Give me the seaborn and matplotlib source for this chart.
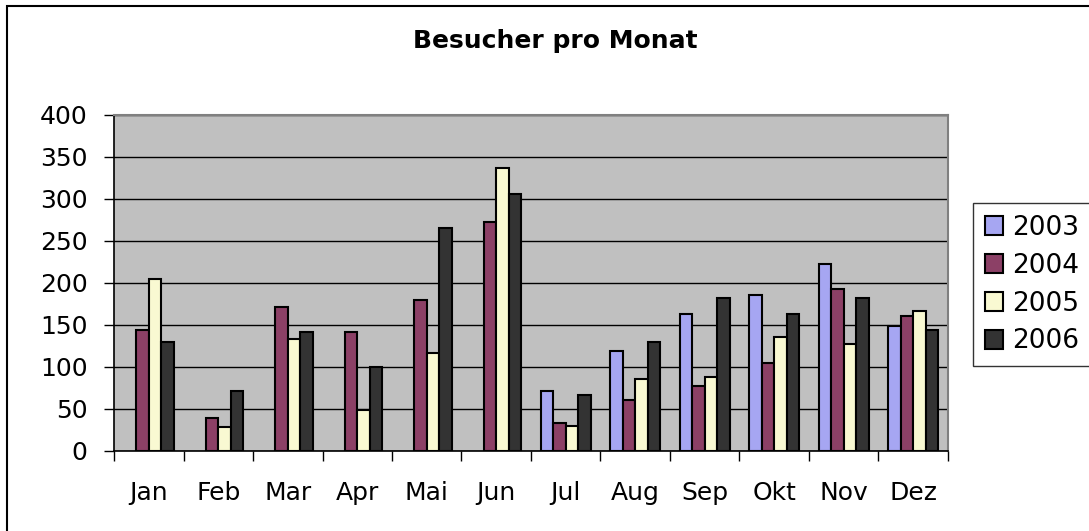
import numpy as np
import pandas as pd
import matplotlib
matplotlib.use("Agg")
import matplotlib.pyplot as plt
import matplotlib.patches as mpatches
import seaborn as sns

months = ["Jan", "Feb", "Mar", "Apr", "Mai", "Jun", "Jul", "Aug", "Sep", "Okt", "Nov", "Dez"]
years = ["2003", "2004", "2005", "2006"]
v2003 = [np.nan, np.nan, np.nan, np.nan, np.nan, np.nan, 71, 119, 163, 185, 222, 149]
v2004 = [144, 39, 171, 141, 180, 273, 33, 60, 77, 105, 193, 160]
v2005 = [204, 28, 133, 49, 116, 337, 30, 86, 88, 136, 127, 166]
v2006 = [130, 71, 141, 100, 265, 306, 66, 130, 182, 163, 182, 144]
yticks = [0, 50, 100, 150, 200, 250, 300, 350, 400]
colors = ["#9999FF", "#993366", "#FFFFCC", "#333333"]

rows = []
for y, vals in zip(years, [v2003, v2004, v2005, v2006]):
    for m, v in zip(months, vals):
        rows.append({"Monat": m, "Jahr": y, "Besucher": v})
df = pd.DataFrame(rows)

sns.set_theme(style="white")
plt.rcParams["font.family"] = ["DejaVu Sans"]
plt.rcParams["text.color"] = "black"
plt.rcParams["xtick.color"] = "black"
plt.rcParams["ytick.color"] = "black"
plt.rcParams["xtick.labelcolor"] = "black"
plt.rcParams["ytick.labelcolor"] = "black"

fig = plt.figure(figsize=(10.89, 5.31), dpi=100)
ax = fig.add_axes([114 / 1089, 80.3 / 531, (948 - 114) / 1089, (450.7 - 115) / 531])

sns.barplot(data=df, x="Monat", y="Besucher", hue="Jahr", order=months,
            hue_order=years, palette=colors, width=0.72, gap=0,
            errorbar=None, edgecolor="black", linewidth=1.5, ax=ax,
            legend=True, zorder=3)

ax.set_facecolor("#C0C0C0")
ax.set_ylim(0, 400)
ax.set_xlim(-0.5, 11.5)
ax.set_yticks(yticks)
ax.set_yticklabels([str(t) for t in yticks])
ax.yaxis.grid(True, color="black", linewidth=1.0, zorder=0)
ax.set_axisbelow(True)
ax.set_xlabel("")
ax.set_ylabel("")

ax.set_xticks(np.arange(-0.5, 12, 1), minor=True)
ax.tick_params(axis="x", which="minor", length=7, width=1, color="black", direction="out", bottom=True)
ax.tick_params(axis="x", which="major", length=0, pad=22, labelsize=18, labelcolor="black")
ax.tick_params(axis="y", which="major", length=7, width=1, color="black", direction="out",
               left=True, pad=12, labelsize=18, labelcolor="black")

for s in ["left", "bottom"]:
    ax.spines[s].set_color("black")
    ax.spines[s].set_linewidth(1.2)
for s in ["top", "right"]:
    ax.spines[s].set_color("#808080")
    ax.spines[s].set_linewidth(1.5)

handles, labels = ax.get_legend_handles_labels()
ax.get_legend().remove()
leg = fig.legend(handles, labels, loc="upper left",
                 bbox_to_anchor=(973 / 1089, 1 - 203 / 531),
                 fontsize=19, frameon=True, fancybox=False, edgecolor="black",
                 handlelength=0.7, handleheight=0.7, handletextpad=0.35,
                 labelspacing=0.45, borderpad=0.45, borderaxespad=0)
leg.get_frame().set_linewidth(1.0)
for t in leg.get_texts():
    t.set_color("black")

fig.text(555 / 1089, 1 - 41 / 531, "Besucher pro Monat", ha="center", va="center",
         fontsize=18, fontweight="bold", color="black")

border = mpatches.Rectangle((7 / 1089, -0.05), 1.1, 1 - 6 / 531 + 0.05,
                            transform=fig.transFigure, fill=False,
                            edgecolor="black", linewidth=1.5)
fig.patches.append(border)

fig.savefig("out.png", dpi=100)
